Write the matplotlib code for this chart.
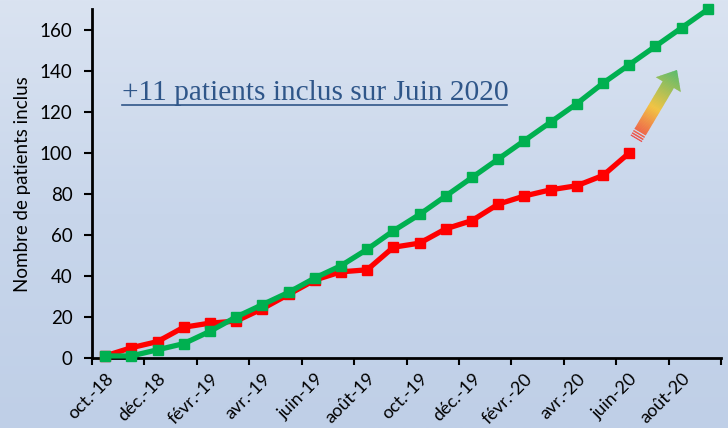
import numpy as np
import matplotlib
matplotlib.use("Agg")
from matplotlib import pyplot as plt
from matplotlib.patches import Polygon
from matplotlib.lines import Line2D
from matplotlib.path import Path
from matplotlib.patches import PathPatch
from matplotlib.colors import LinearSegmentedColormap
from matplotlib.transforms import IdentityTransform

months = ["oct.-18", "nov.-18", "déc.-18", "janv.-19", "févr.-19", "mars-19",
          "avr.-19", "mai-19", "juin-19", "juil.-19", "août-19", "sept.-19",
          "oct.-19", "nov.-19", "déc.-19", "janv.-20", "févr.-20", "mars-20",
          "avr.-20", "mai-20", "juin-20", "juil.-20", "août-20", "sept.-20"]
inclus_reel = [1, 5, 8, 15, 17, 18, 24, 31, 38, 42, 43, 54, 56, 63, 67, 75,
               79, 82, 84, 89, 100]
inclus_prevu = [1, 1, 4, 7, 13, 20, 26, 32, 39, 45, 53, 62, 70, 79, 88, 97,
                106, 115, 124, 134, 143, 152, 161, 170]
note = "+11 patients inclus sur Juin 2020"

W, H = 728, 428
fig = plt.figure(figsize=(W / 100, H / 100), dpi=100)

# fond en dégradé bleu
bg = fig.add_axes([0, 0, 1, 1], zorder=0)
bg_cmap = LinearSegmentedColormap.from_list("bg", ["#BFCFE7", "#C8D6EB", "#DAE3F1"])
bg.imshow(np.linspace(0, 1, 256).reshape(-1, 1), aspect="auto", cmap=bg_cmap,
          origin="lower", extent=[0, 1, 0, 1])
bg.set_axis_off()

left, right, bottom, top = 92, 721, 358, 9.3
ax = fig.add_axes([left / W, (H - bottom) / H, (right - left) / W, (bottom - top) / H],
                  zorder=1)
ax.set_facecolor("none")

x = np.arange(len(months))
ax.plot(x[:len(inclus_reel)], inclus_reel, color="#FF0000", lw=3.8,
        marker="s", ms=6.5, zorder=3, clip_on=False)
ax.plot(x[:len(inclus_prevu)], inclus_prevu, color="#00B050", lw=3.8,
        marker="s", ms=6.5, zorder=4, clip_on=False)

ax.set_xlim(-0.5, len(months) - 0.5)
ax.set_ylim(0, 170)
ax.set_yticks(range(0, 161, 20))
ax.set_xticks(np.arange(-0.5, len(months), 2))
ax.set_xticklabels([])
ax.set_xticks(x[::2], minor=True)
ax.set_xticklabels(months[::2], minor=True, rotation=45, ha="right",
                   rotation_mode="anchor", fontsize=13, family="Lato")
ax.tick_params(axis="x", which="minor", length=0, pad=9)
ax.tick_params(axis="x", which="major", length=5, width=1.5, direction="out")
ax.tick_params(axis="y", length=6, width=1.5, direction="out", pad=8,
               labelsize=13.5)
for lab in ax.get_yticklabels():
    lab.set_family("Lato")
ax.set_ylabel("Nombre de patients inclus", fontsize=13.5, family="Lato", labelpad=6)
for s in ["top", "right"]:
    ax.spines[s].set_visible(False)
for s in ["left", "bottom"]:
    ax.spines[s].set_linewidth(2)

# texte souligné
fig.text(122 / W, (H - 100) / H, note, family="Liberation Serif", fontsize=21.2,
         color="#2F5689", ha="left", va="baseline")
fig.add_artist(Line2D([122 / W, 507 / W], [(H - 104.5) / H] * 2,
                      color="#2F5689", lw=1.2, transform=fig.transFigure))

# flèche en dégradé (coordonnées pixels, y vers le bas)
base = np.array([636.0, 139.0])
tip = np.array([677.0, 70.0])
d = tip - base
L = np.hypot(*d)
u = d / L
n = np.array([-u[1], u[0]])


def pt(s, w):
    p = base + u * s + n * w
    return [p[0], H - p[1]]


hw, hh, hl = 6.5, 14.5, 17.0
verts, codes = [], []


def add_poly(pts):
    verts.extend(pts + [pts[0]])
    codes.extend([Path.MOVETO] + [Path.LINETO] * (len(pts) - 1) + [Path.CLOSEPOLY])


add_poly([pt(8, -hw), pt(L - hl, -hw), pt(L - hl, -hh), pt(L, 0),
          pt(L - hl, hh), pt(L - hl, hw), pt(8, hw)])
for s0, s1 in [(0, 1.4), (2.6, 4.0), (5.2, 6.6)]:
    add_poly([pt(s0, -hw), pt(s1, -hw), pt(s1, hw), pt(s0, hw)])
clip = PathPatch(Path(verts, codes), transform=IdentityTransform(),
                 facecolor="none", edgecolor="none")
fig.add_artist(clip)

arrow_cmap = LinearSegmentedColormap.from_list(
    "arr", [(0, "#EE4F4C"), (0.45, "#F2C443"), (1, "#5BBB6C")])
nstrip = 60
for i in range(nstrip):
    s0 = L * i / nstrip
    s1 = L * (i + 1) / nstrip + 0.6
    strip = Polygon([pt(s0, -20), pt(s1, -20), pt(s1, 20), pt(s0, 20)],
                    closed=True, transform=IdentityTransform(),
                    facecolor=arrow_cmap(i / (nstrip - 1)), edgecolor="none",
                    zorder=5)
    fig.add_artist(strip)
    strip.set_clip_path(clip)

fig.savefig("out.png", dpi=100)
